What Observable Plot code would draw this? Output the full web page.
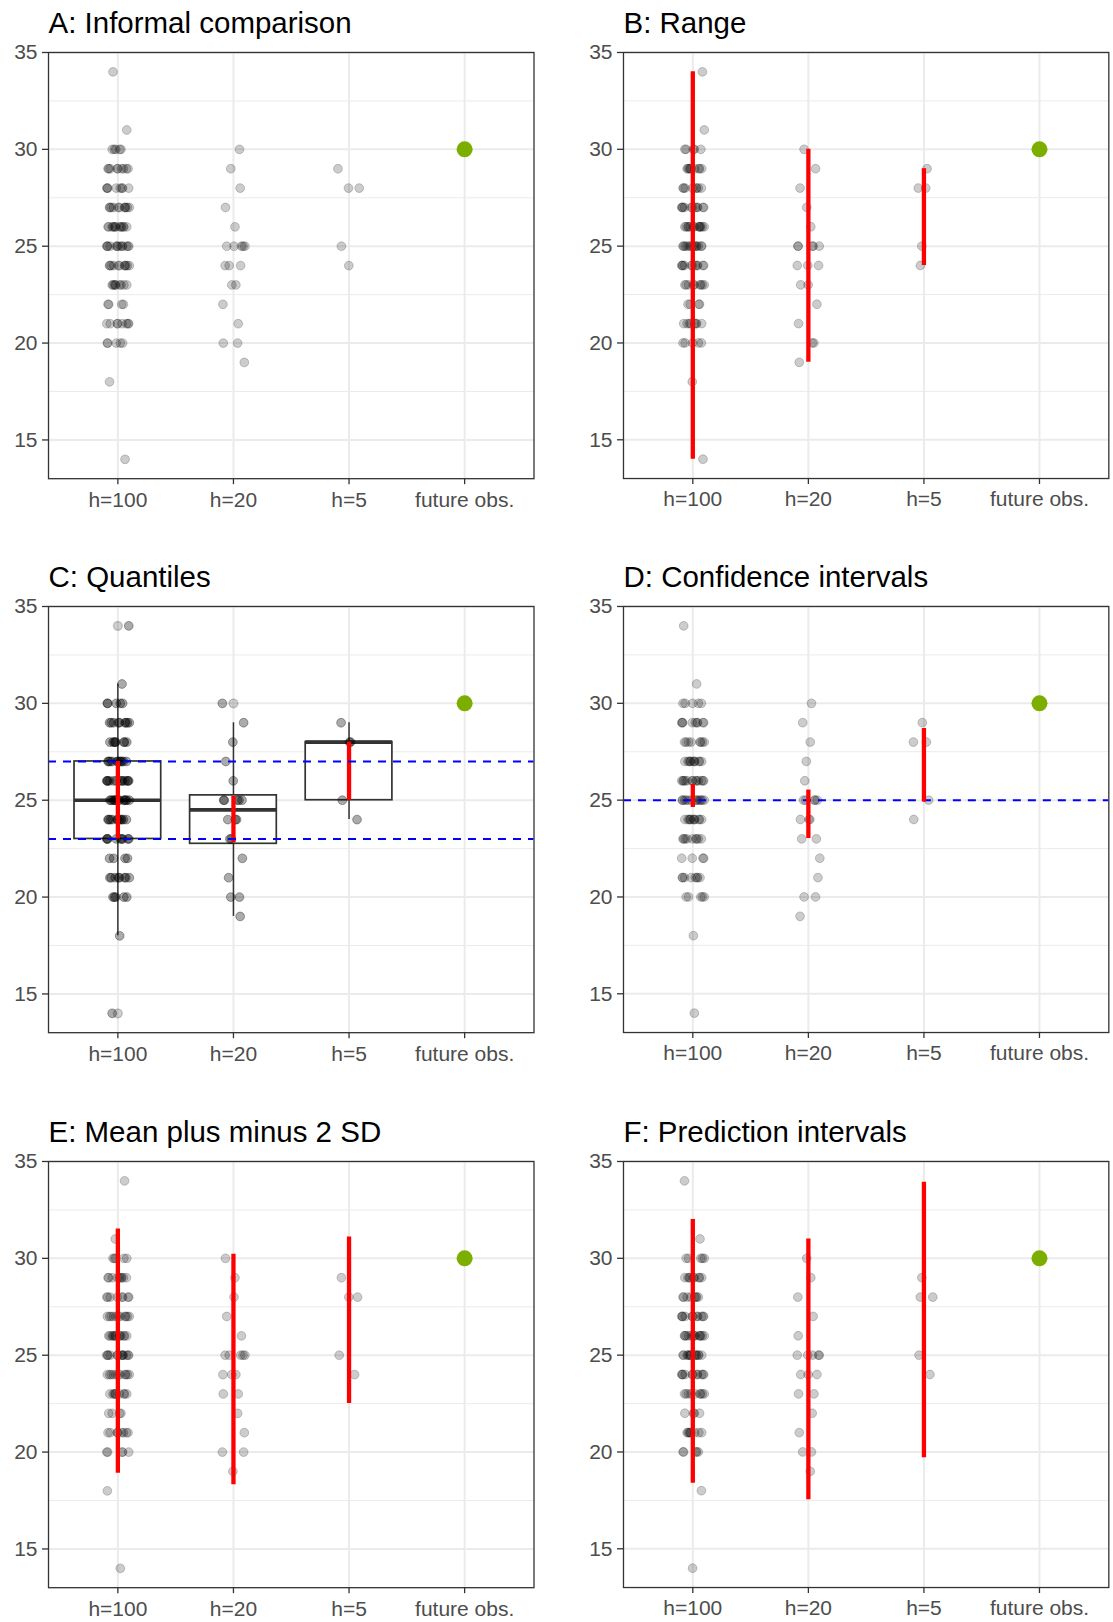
<!DOCTYPE html>
<html>
<head>
<meta charset="utf-8">
<script src="https://cdn.jsdelivr.net/npm/d3@7"></script>
<script src="https://cdn.jsdelivr.net/npm/@observablehq/plot@0.6"></script>
<style>
  body { margin: 0; background: #ffffff; }
  #chart { position: relative; width: 1113px; height: 1622px; overflow: hidden; background: #ffffff;
           font-family: "Liberation Sans", Arimo, Arial, sans-serif; }
  .panel { position: absolute; }
</style>
</head>
<body>
<div id="chart"></div>
<script>
// ---------------- data ----------------
const categories = ["h=100", "h=20", "h=5", "future obs."];

// h=100 sample: distinct values and their counts
const h100Values = [14, 18, 20, 21, 22, 23, 24, 25, 26, 27, 28, 29, 30, 31, 34];
const h100Counts = [1, 1, 5, 8, 4, 9, 11, 13, 13, 11, 8, 9, 5, 1, 1];
// h=20 sample
const h20Values = [30, 29, 28, 27, 26, 25, 25, 25, 25, 25, 24, 24, 24, 23, 23, 22, 21, 20, 20, 19];
// h=5 sample
const h5Values = [29, 28, 28, 25, 24];
// the future observation
const futureObs = 30;

const panelTitles = ["A: Informal comparison", "B: Range", "C: Quantiles",
                     "D: Confidence intervals", "E: Mean plus minus 2 SD", "F: Prediction intervals"];

const yTicks = [15, 20, 25, 30, 35];
const yMinor = [17.5, 22.5, 27.5, 32.5];

// intervals per group (h=100, h=20, h=5)
const rangeLow = [14, 19, 24],        rangeHigh = [34, 30, 29];
const quartileLow = [23, 22.8, 25],   quartileHigh = [27, 25.2, 28];
const ciLow = [24.62, 23.02, 24.9],   ciHigh = [25.81, 25.52, 28.7];
const sdLow = [18.91, 18.32, 22.51],  sdHigh = [31.51, 30.21, 31.1];
const piLow = [18.39, 17.53, 19.7],   piHigh = [32.01, 31.0, 33.93];

// box plot statistics (panel C)
const boxQ1 = [23, 22.75, 25], boxMedian = [25, 24.5, 28], boxQ3 = [27, 25.25, 28];
const whiskerLow = [18, 19, 24], whiskerHigh = [31, 29, 29];
const outlierGroup = [0, 0, 1], outlierValue = [34, 14, 30];

// reference lines
const trueQuantiles = [23, 27];
const trueMean = [25];

// fixed horizontal jitter pattern (layout only, units of jitter width)
const jitterPattern = [0.62, -0.85, 0.13, 0.94, -0.31, -0.72, 0.48, 0.05, -0.96, 0.77, -0.14, 0.33,
  -0.58, 0.88, -0.42, 0.21, -0.79, 0.69, -0.05, 0.52, -0.91, 0.27, 0.99, -0.66, -0.23, 0.41,
  -0.49, 0.83, -0.02, 0.58, -0.88, 0.16, -0.37, 0.74, -0.69, 0.36, -0.18];
const jitterWidth = 0.1;

// ---------------- derived tables ----------------
const sampleRows = [];
h100Values.forEach((v, k) => { for (let c = 0; c < h100Counts[k]; c++) sampleRows.push({g: 0, v}); });
h20Values.forEach(v => sampleRows.push({g: 1, v}));
h5Values.forEach(v => sampleRows.push({g: 2, v}));

function jittered(p) {
  const n = jitterPattern.length;
  return sampleRows.map((d, i) => ({g: d.g, v: d.v, x: d.g + jitterWidth * jitterPattern[(i * 5 + p * 13) % n]}));
}
const groupIdx = [0, 1, 2];
const intervals = (lo, hi) => groupIdx.map(g => ({g, lo: lo[g], hi: hi[g]}));
const boxes = groupIdx.map(g => ({g, q1: boxQ1[g], med: boxMedian[g], q3: boxQ3[g], wl: whiskerLow[g], wh: whiskerHigh[g]}));
const outliers = outlierGroup.map((g, i) => ({g, v: outlierValue[i]}));
const future = [{g: 3, v: futureObs}];

// ---------------- layout ----------------
const colLeft = [47.6, 622.7];
const rowTop = [51.7, 606.2, 1160.6];
const panelW = 485.5, panelH = 426.2;
const mL = 48, mT = 52, mR = 5, mB = 36;

const RED = "#FF0000", BLUE = "#0000FF";
const PT = 4.4;
const redBar = (lo, hi) => Plot.ruleX(intervals(lo, hi), {x: "g", y1: "lo", y2: "hi", stroke: RED, strokeWidth: 4.3});
const dots = (p, op) => Plot.dot(jittered(p), {x: "x", y: "v", r: PT, fill: "black", fillOpacity: op,
                                   stroke: "black", strokeOpacity: op, strokeWidth: 1});

function panelMarks(p) {
  switch (p) {
    case 0: return [dots(p, 0.2)];
    case 1: return [dots(p, 0.2), redBar(rangeLow, rangeHigh)];
    case 2: return [
      Plot.ruleX(boxes, {x: "g", y1: "wl", y2: "wh", stroke: "#333333", strokeWidth: 1.5}),
      Plot.rect(boxes, {x1: d => d.g - 0.375, x2: d => d.g + 0.375, y1: "q1", y2: "q3",
                        fill: "white", stroke: "#333333", strokeWidth: 1.7}),
      Plot.ruleY(boxes, {y: "med", x1: d => d.g - 0.375, x2: d => d.g + 0.375, stroke: "#333333", strokeWidth: 3.6}),
      Plot.dot(outliers, {x: "g", y: "v", r: PT, fill: "black", fillOpacity: 0.18, stroke: "black", strokeOpacity: 0.18}),
      dots(p, 0.33),
      redBar(quartileLow, quartileHigh),
      Plot.ruleY(trueQuantiles, {stroke: BLUE, strokeWidth: 2, strokeDasharray: "8,7"})
    ];
    case 3: return [
      dots(p, 0.2),
      Plot.ruleY(trueMean, {stroke: BLUE, strokeWidth: 2, strokeDasharray: "8,7"}),
      redBar(ciLow, ciHigh)
    ];
    case 4: return [dots(p, 0.2), redBar(sdLow, sdHigh)];
    case 5: return [dots(p, 0.2), redBar(piLow, piHigh)];
  }
}

const chart = document.getElementById("chart");
for (let p = 0; p < 6; p++) {
  const col = p % 2, row = Math.floor(p / 2);
  const svg = Plot.plot({
    width: mL + panelW + mR,
    height: mT + panelH + mB,
    marginLeft: mL, marginRight: mR, marginTop: mT, marginBottom: mB,
    style: {fontFamily: '"Liberation Sans", Arimo, Arial, sans-serif', fontSize: "21px",
            background: "transparent", overflow: "visible", color: "#4D4D4D"},
    x: {domain: [-0.6, 3.6]},
    y: {domain: [13, 35]},
    marks: [
      Plot.frame({fill: "white"}),
      Plot.ruleY(yMinor, {stroke: "#EBEBEB", strokeWidth: 1}),
      Plot.ruleY(yTicks, {stroke: "#EBEBEB", strokeWidth: 2}),
      Plot.ruleX([0, 1, 2, 3], {stroke: "#EBEBEB", strokeWidth: 2}),
      ...panelMarks(p),
      Plot.dot(future, {x: "g", y: "v", r: 8, fill: "#7CAE00"}),
      Plot.frame({stroke: "#333333", strokeWidth: 1.3}),
      Plot.axisY(yTicks, {label: null, tickSize: 6, tickPadding: 5, stroke: "#333333", strokeWidth: 1.3,
                          fill: "#4D4D4D", fontSize: 21}),
      Plot.axisX([0, 1, 2, 3], {label: null, tickFormat: d => categories[d], tickSize: 6, tickPadding: 7,
                                stroke: "#333333", strokeWidth: 1.3, fill: "#4D4D4D", fontSize: 21}),
      Plot.text([panelTitles[p]], {frameAnchor: "top-left", dy: -19, textAnchor: "start", lineAnchor: "bottom",
                                   fontSize: 29.5, fill: "#000000"})
    ]
  });
  const wrap = document.createElement("div");
  wrap.className = "panel";
  wrap.style.left = (colLeft[col] - mL) + "px";
  wrap.style.top = (rowTop[row] - mT) + "px";
  wrap.appendChild(svg);
  chart.appendChild(wrap);
}
</script>
</body>
</html>
